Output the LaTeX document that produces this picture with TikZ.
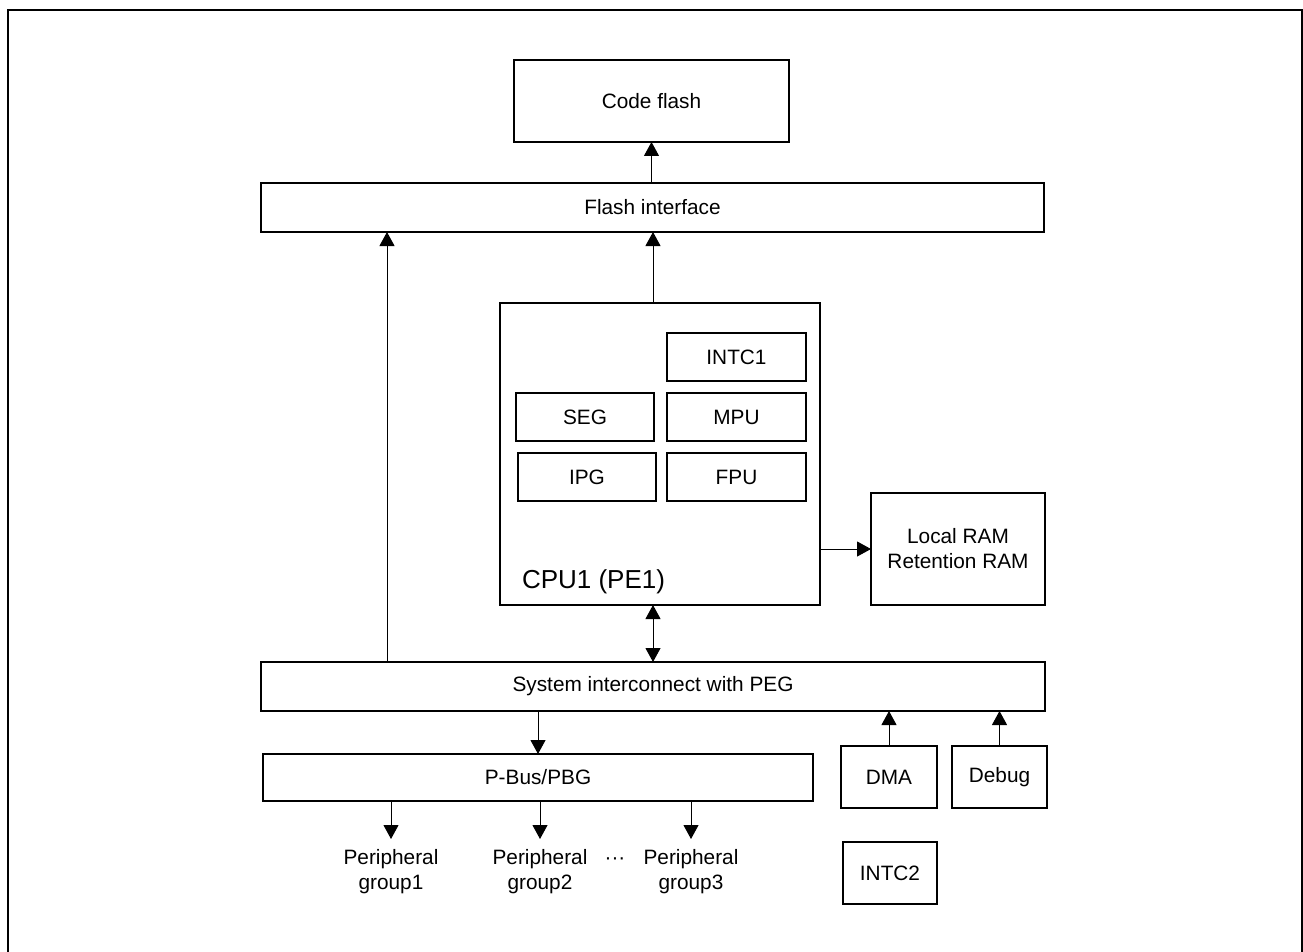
\documentclass[tikz,border=0pt]{standalone}
\usepackage{fontspec}
\setmainfont{Liberation Sans}
\usetikzlibrary{arrows.meta}
\begin{document}
\begin{tikzpicture}[x=1pt,y=-1pt,
  box/.style={draw=black,line width=2pt,rectangle,inner sep=0pt,outer sep=0pt,align=center,
    font=\fontsize{20.8}{25}\selectfont},
  lbl/.style={inner sep=0pt,outer sep=0pt,align=center,font=\fontsize{20.8}{25}\selectfont},
  arr/.style={line width=1pt,-{Triangle[length=14pt,width=15pt]}},
  darr/.style={line width=1pt,{Triangle[length=14pt,width=15pt]}-{Triangle[length=14pt,width=15pt]}},
  frame/.style={line width=2pt}]
\useasboundingbox (0,0) rectangle (1303,952);
\draw[frame] (8,952) -- (8,10) -- (1302,10) -- (1302,952);

\node[box,minimum width=275pt,minimum height=82pt] (cf) at (651.5,101) {Code flash};
\node[box,minimum width=783pt,minimum height=49pt] (fi) at (652.5,207.5) {Flash interface};
\node[box,minimum width=320pt,minimum height=302pt] (cpu) at (660,454) {};
\node[lbl,anchor=base west,font=\fontsize{26}{30}\selectfont] (cpulbl) at (522,588) {CPU1 (PE1)};
\node[box,minimum width=139pt,minimum height=48pt] (intc1) at (736.5,357) {INTC1};
\node[box,minimum width=138pt,minimum height=48pt] (seg) at (585,417) {SEG};
\node[box,minimum width=139pt,minimum height=48pt] (mpu) at (736.5,417) {MPU};
\node[box,minimum width=138pt,minimum height=48pt] (ipg) at (587,477) {IPG};
\node[box,minimum width=139pt,minimum height=48pt] (fpu) at (736.5,477) {FPU};
\node[box,minimum width=174pt,minimum height=112pt] (ram) at (958,549) {Local RAM\\Retention RAM};
\node[box,minimum width=784pt,minimum height=49pt] (sys) at (653,686.5) {System interconnect with PEG};
\node[box,minimum width=550pt,minimum height=47pt] (pbus) at (538,777.5) {P-Bus/PBG};
\node[box,minimum width=96pt,minimum height=62pt] (dma) at (889,777) {DMA};
\node[box,minimum width=95pt,minimum height=62pt] (dbg) at (999.5,777) {Debug};
\node[box,minimum width=94pt,minimum height=62pt] (intc2) at (890,873) {INTC2};
\node[lbl,anchor=north] (pg1) at (391,849) {Peripheral\\group1};
\node[lbl,anchor=north] (pg2) at (540,849) {Peripheral\\group2};
\node[lbl,anchor=north] (pg3) at (691,849) {Peripheral\\group3};
\node[lbl] (dots) at (615,861) {···};

\coordinate (xa) at (387,0);
\coordinate (xb) at (653,0);
\coordinate (xp) at (538,0);
\draw[arr] (fi.north -| cf.south) -- (cf.south);
\draw[arr] (xb |- cpu.north) -- (xb |- fi.south);
\draw[arr] (xa |- sys.north) -- (xa |- fi.south);
\draw[darr] (xb |- cpu.south) -- (xb |- sys.north);
\draw[arr] (cpu.east |- ram.west) -- (ram.west);
\draw[arr] (xp |- sys.south) -- (pbus.north);
\draw[arr] (pg1.north |- pbus.south) -- ([yshift=10pt]pg1.north);
\draw[arr] (pg2.north |- pbus.south) -- ([yshift=10pt]pg2.north);
\draw[arr] (pg3.north |- pbus.south) -- ([yshift=10pt]pg3.north);
\draw[arr] (dma.north) -- (dma.north |- sys.south);
\draw[arr] (dbg.north) -- (dbg.north |- sys.south);
\end{tikzpicture}
\end{document}
